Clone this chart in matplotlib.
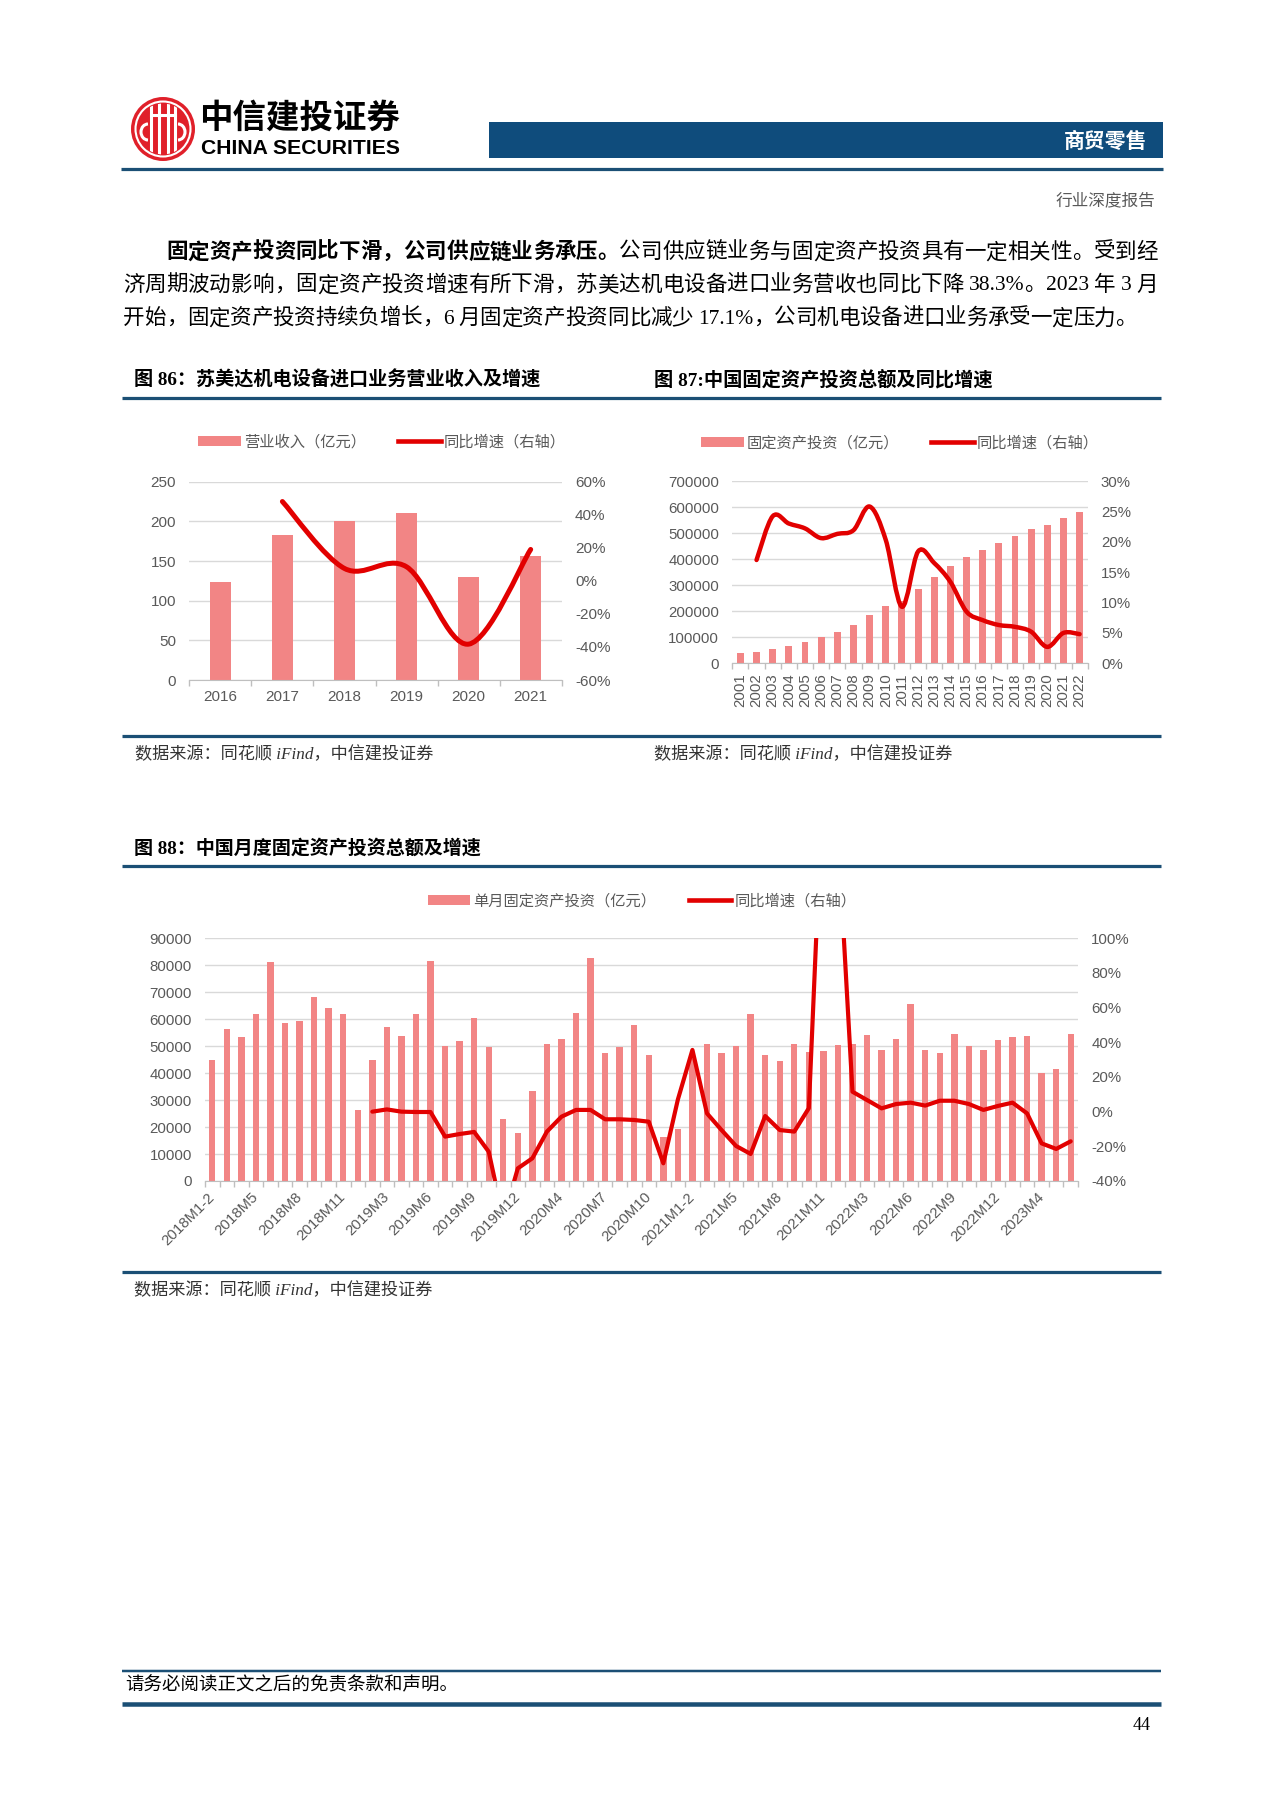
import matplotlib.pyplot as plt
import numpy as np
from matplotlib.patches import Rectangle, Circle, PathPatch, Patch, Arc
from matplotlib.lines import Line2D
from matplotlib.path import Path

plt.rcParams['font.family'] = ['Liberation Sans', 'Noto Sans CJK SC']

# ---- data: figure 86 ----
years86 = ['2016', '2017', '2018', '2019', '2020', '2021']
revenue86 = [124, 183, 200, 211, 130, 156]
growth86 = [np.nan, 48.0, 7.5, 8.5, -38.3, 19.0]

# ---- data: figure 87 ----
years87 = ['2001', '2002', '2003', '2004', '2005', '2006', '2007', '2008', '2009', '2010', '2011',
           '2012', '2013', '2014', '2015', '2016', '2017', '2018', '2019', '2020', '2021', '2022']
fai87 = [38000, 45000, 56000, 68000, 83000, 100000, 120000, 146000, 184000, 220000, 240000,
         284000, 332000, 375000, 408000, 435000, 462000, 490000, 516000, 530000, 557000, 581000]
growth87 = [np.nan, 17.0, 24.2, 23.0, 22.2, 20.6, 21.3, 21.9, 25.8, 20.3, 9.3,
            18.4, 16.5, 13.4, 8.5, 7.1, 6.3, 6.0, 5.2, 2.7, 5.0, 4.8]

# ---- data: figure 88 ----
months88 = ['2018M1-2', '2018M3', '2018M4', '2018M5', '2018M6', '2018M7', '2018M8', '2018M9', '2018M10', '2018M11', '2018M12',
            '2019M1-2', '2019M3', '2019M4', '2019M5', '2019M6', '2019M7', '2019M8', '2019M9', '2019M10', '2019M11', '2019M12',
            '2020M1-2', '2020M3', '2020M4', '2020M5', '2020M6', '2020M7', '2020M8', '2020M9', '2020M10', '2020M11', '2020M12',
            '2021M1-2', '2021M3', '2021M4', '2021M5', '2021M6', '2021M7', '2021M8', '2021M9', '2021M10', '2021M11', '2021M12',
            '2022M1-2', '2022M3', '2022M4', '2022M5', '2022M6', '2022M7', '2022M8', '2022M9', '2022M10', '2022M11', '2022M12',
            '2023M1-2', '2023M3', '2023M4', '2023M5', '2023M6']
invest88 = [45000, 56200, 53500, 61800, 81300, 58600, 59500, 68400, 64000, 61800, 26300,
            45000, 57000, 53900, 61800, 81600, 49900, 51800, 60600, 49700, 22900, 17800,
            33300, 50700, 52700, 62400, 82600, 47600, 49700, 57800, 46700, 16300, 19300,
            45200, 50700, 47600, 50100, 62100, 46600, 44400, 50800, 48000, 48300, 50400,
            50700, 54100, 48700, 52500, 65500, 48500, 47300, 54400, 50100, 48700, 52200,
            53500, 53800, 40200, 41400, 54400]
growth88 = [np.nan] * 11 + [
    0.0, 1.3, 0.0, -0.2, -0.2, -14.4, -12.9, -11.7, -23.1, -62.0, -32.7,
    -26.9, -11.5, -2.9, 1.0, 1.0, -4.4, -4.4, -4.8, -5.8, -29.8, 7.0,
    35.6, -1.0, -10.6, -19.8, -24.4, -2.5, -10.6, -11.5, 2.0, 196.0, 161.0,
    11.5, 6.7, 1.9, 4.4, 5.2, 3.5, 6.3, 6.3, 4.4, 1.0, 3.3,
    5.2, -1.0, -18.3, -21.5, -17.1]

BAR = '#F28585'
RED = '#E20000'
NAVY = '#1B4F75'
GRAY = '#595959'
BODY = ['Liberation Serif', 'Noto Sans CJK SC']

W, H = 1280, 1810
fig = plt.figure(figsize=(12.8, 18.1), dpi=100)


def rect(l, t, r, b):
    return [l / W, 1 - b / H, (r - l) / W, (b - t) / H]


def smooth_path(x, y):
    # bezier curve through the points (like Excel's smoothed line)
    P = np.column_stack([x, y]).astype(float)
    Q = np.vstack([P[:1], P, P[-1:]])
    verts = [tuple(P[0])]
    codes = [Path.MOVETO]
    for i in range(1, len(P)):
        c1 = Q[i] + (Q[i + 1] - Q[i - 1]) / 6
        c2 = Q[i + 1] - (Q[i + 2] - Q[i]) / 6
        verts += [tuple(c1), tuple(c2), tuple(Q[i + 1])]
        codes += [Path.CURVE4] * 3
    return Path(verts, codes)


def style(ax, ax2, size):
    for a in (ax, ax2):
        for s in ['top', 'left', 'right', 'bottom']:
            a.spines[s].set_visible(False)
    ax.spines['bottom'].set_visible(True)
    ax.spines['bottom'].set_color('#BFBFBF')
    ax.grid(axis='y', color='#D9D9D9', lw=1)
    ax.set_axisbelow(True)
    ax.tick_params(axis='y', length=0, pad=9.5, labelsize=size, labelcolor=GRAY)
    ax2.tick_params(axis='y', length=0, pad=9.5, labelsize=size, labelcolor=GRAY)
    ax.tick_params(axis='x', which='major', length=0, pad=7, labelsize=size, labelcolor=GRAY)
    ax.tick_params(axis='x', which='minor', length=4, color='#BFBFBF', width=1)


def add_legend(ax, label1, label2, cx, cy):
    handles = [Patch(facecolor=BAR, edgecolor='none'), Line2D([], [], color=RED, lw=3.3)]
    ax.legend(handles, [label1, label2], loc='center', bbox_to_anchor=(cx / W, 1 - cy / H),
              bbox_transform=fig.transFigure, ncol=2, frameon=False, fontsize=11,
              handlelength=2.8, handletextpad=0.2, columnspacing=2.1, labelcolor=GRAY)


# ---- figure 86 ----
ax = fig.add_axes(rect(189.3, 481.7, 561.7, 680))
x = np.arange(len(years86))
ax.bar(x, revenue86, width=0.34, color=BAR)
ax.set_xlim(-0.5, len(x) - 0.5)
ax.set_ylim(0, 250)
ax.set_yticks(range(0, 251, 50))
ax.set_xticks(x)
ax.set_xticklabels(years86)
ax.set_xticks(np.arange(-0.5, len(x), 1), minor=True)
ax2 = ax.twinx()
ax2.set_ylim(-60, 60)
ax2.set_yticks(range(-60, 61, 20))
ax2.set_yticklabels([f'{v}%' for v in range(-60, 61, 20)])
ax2.add_patch(PathPatch(smooth_path(x[1:], growth86[1:]), fill=False, ec=RED, lw=3.6,
                        capstyle='round', joinstyle='round'))
style(ax, ax2, 11)
add_legend(ax, '营业收入（亿元）', '同比增速（右轴）', 382, 442)

# ---- figure 87 ----
ax = fig.add_axes(rect(732.3, 481, 1087.7, 663.3))
x = np.arange(len(years87))
ax.bar(x, fai87, width=0.43, color=BAR)
ax.set_xlim(-0.5, len(x) - 0.5)
ax.set_ylim(0, 700000)
ax.set_yticks(range(0, 700001, 100000))
ax.set_yticklabels([str(v) for v in range(0, 700001, 100000)])
ax.set_xticks(x)
ax.set_xticklabels(years87, rotation=90)
ax.set_xticks(np.arange(-0.5, len(x), 1), minor=True)
ax2 = ax.twinx()
ax2.set_ylim(0, 30)
ax2.set_yticks(range(0, 31, 5))
ax2.set_yticklabels([f'{v}%' for v in range(0, 31, 5)])
ax2.add_patch(PathPatch(smooth_path(x[1:], growth87[1:]), fill=False, ec=RED, lw=3.2,
                        capstyle='round', joinstyle='round'))
style(ax, ax2, 10.8)
add_legend(ax, '固定资产投资（亿元）', '同比增速（右轴）', 900, 443)

# ---- figure 88 ----
ax = fig.add_axes(rect(205, 938.3, 1078, 1181))
x = np.arange(len(months88))
ax.bar(x, invest88, width=0.44, color=BAR)
ax.set_xlim(-0.5, len(x) - 0.5)
ax.set_ylim(0, 90000)
ax.set_yticks(range(0, 90001, 10000))
ax.set_xticks(x[::3])
ax.set_xticklabels(months88[::3], rotation=45, ha='right', va='center', rotation_mode='anchor')
ax.set_xticks(np.arange(-0.5, len(x), 1), minor=True)
ax2 = ax.twinx()
ax2.set_ylim(-40, 100)
ax2.set_yticks(range(-40, 101, 20))
ax2.set_yticklabels([f'{v}%' for v in range(-40, 101, 20)])
ax2.plot(x, growth88, color=RED, lw=3, solid_joinstyle='round', solid_capstyle='round')
style(ax, ax2, 10.8)
ax.tick_params(axis='x', which='major', pad=10)
add_legend(ax, '单月固定资产投资（亿元）', '同比增速（右轴）', 642, 901)

# ---- page decoration (pixel coordinates) ----
page = fig.add_axes([0, 0, 1, 1])
page.set_xlim(0, W)
page.set_ylim(H, 0)
page.axis('off')
r = fig.canvas.get_renderer()


def hline(y, lw_px, x0=122, x1=1161, color=NAVY):
    page.plot([x0, x1], [y, y], color=color, lw=lw_px * 0.72, solid_capstyle='butt')


def fit(t, width):
    cur = t.get_window_extent(r).width
    t.set_fontsize(t.get_fontsize() * width / cur)


def tokens(s):
    out, buf = [], ''
    for ch in s:
        if ord(ch) < 128 and ch != ' ':
            buf += ch
        else:
            if buf:
                out.append(buf)
                buf = ''
            out.append(ch)
    if buf:
        out.append(buf)
    return out


def justify(parts, x0, x1, y, size=15.5):
    items = []
    for s, wgt in parts:
        for tk in tokens(s):
            if tk == ' ':
                items.append((None, 5.0))
            else:
                t = page.text(0, y, tk, fontsize=size, weight=wgt, family=BODY, va='center', ha='left')
                items.append((t, t.get_window_extent(r).width))
    gap = (x1 - x0 - sum(w for _, w in items)) / (len(items) - 1)
    pos = x0
    for t, w in items:
        if t is not None:
            t.set_x(pos)
        pos += w + gap


# logo
cx, cy = 163, 129
logo_clip = Circle((cx, cy), 25.5, transform=page.transData)
page.add_patch(Circle((cx, cy), 32, fc='#E0202A', ec='none'))
page.add_patch(Circle((cx, cy), 27.5, fc='none', ec='white', lw=1.5))
for dx in (-12, -4.5, 4.5, 12):
    ln, = page.plot([cx + dx, cx + dx], [cy - 30, cy + 30], color='white', lw=2.2)
    ln.set_clip_path(logo_clip)
ln, = page.plot([cx - 12, cx + 12], [cy - 14, cy - 14], color='white', lw=2.2)
page.add_patch(Arc((cx - 15, cy + 3), 14, 16, theta1=90, theta2=270, ec='white', lw=2.2))
page.add_patch(Arc((cx + 15, cy + 3), 14, 16, theta1=-90, theta2=90, ec='white', lw=2.2))
t = page.text(199, 118, '中信建投证券', fontsize=24, weight='heavy', va='center', ha='left',
              family=['Noto Sans CJK SC'])
fit(t, 201)
t = page.text(201, 148, 'CHINA SECURITIES', fontsize=15, weight='bold', va='center', ha='left',
              family=['Liberation Sans Narrow', 'Liberation Sans'])
fit(t, 199)

# header band
page.add_patch(Rectangle((489, 121.7), 1163 - 489, 36.6, fc='#0F4C7C', ec='none'))
page.text(1147, 141, '商贸零售', fontsize=15, weight='bold', color='white', va='center', ha='right',
          family=['Noto Sans CJK SC'])
hline(169.5, 3.2, 121, 1163)
page.text(1155, 201, '行业深度报告', fontsize=12, color=GRAY, va='center', ha='right',
          family=['Noto Sans CJK SC'])

# paragraph
justify([('固定资产投资同比下滑，公司供应链业务承压。', 'bold'),
         ('公司供应链业务与固定资产投资具有一定相关性。受到经', 'normal')], 166, 1158, 253)
justify([('济周期波动影响，固定资产投资增速有所下滑，苏美达机电设备进口业务营收也同比下降 38.3%。2023 年 3 月', 'normal')],
        123, 1158, 286)
justify([('开始，固定资产投资持续负增长，6 月固定资产投资同比减少 17.1%，公司机电设备进口业务承受一定压力。', 'normal')],
        123, 1137, 319)

# chart titles, rules and sources
t = page.text(134, 380, '图 86：苏美达机电设备进口业务营业收入及增速', fontsize=13.5, weight='bold',
              va='center', ha='left', family=BODY)
fit(t, 408)
t = page.text(654, 380, '图 87:中国固定资产投资总额及同比增速', fontsize=13.5, weight='bold',
              va='center', ha='left', family=BODY)
fit(t, 339)
t = page.text(134, 848, '图 88：中国月度固定资产投资总额及增速', fontsize=13.5, weight='bold',
              va='center', ha='left', family=BODY)
fit(t, 348)
hline(397.7, 3.2)
hline(736, 3.2)
hline(865.7, 3.2)
hline(1271.7, 3.2)
for sx, sy in [(135, 755), (654, 755), (134, 1291)]:
    t = page.text(sx, sy, '数据来源：同花顺 iFind，中信建投证券', fontsize=12, style='italic',
                  color='#333333', va='center', ha='left', family=BODY)
    fit(t, 298)

# footer
hline(1670.7, 2.5)
page.text(125, 1686, '请务必阅读正文之后的免责条款和声明。', fontsize=13.3, va='center', ha='left',
          family=BODY)
hline(1704, 4.5)
page.text(1151, 1725, '44', fontsize=13, va='center', ha='right', family=BODY)

fig.savefig('out.png', dpi=100)
